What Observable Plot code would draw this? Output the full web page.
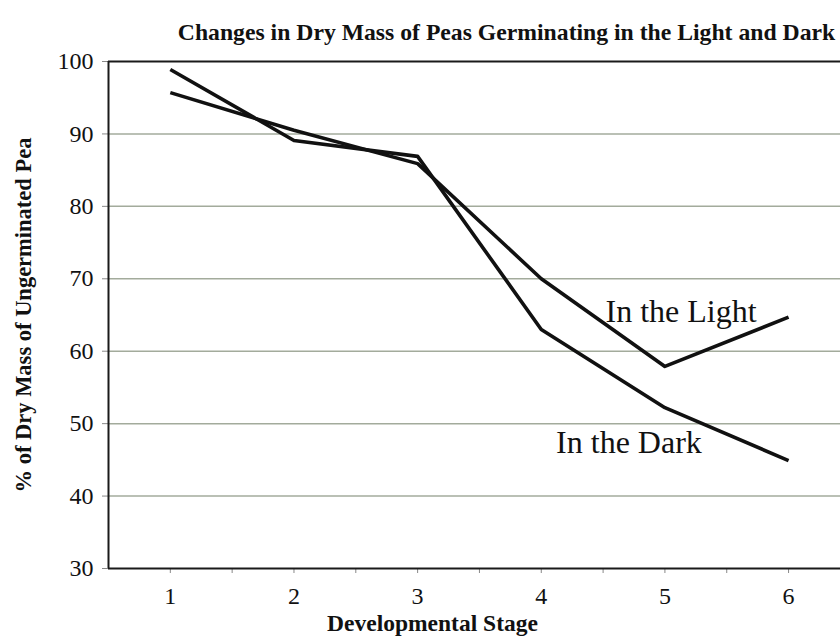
<!DOCTYPE html>
<html>
<head>
<meta charset="utf-8">
<script src="https://cdn.jsdelivr.net/npm/d3@7"></script>
<script src="https://cdn.jsdelivr.net/npm/@observablehq/plot@0.6"></script>
<style>
  html, body { margin: 0; padding: 0; background: #fff; }
  svg text { font-family: "Liberation Serif", "DejaVu Serif", serif; }
</style>
</head>
<body>
<div id="chart"></div>
<script>
const titleText = "Changes in Dry Mass of Peas Germinating in the Light and Dark";
const xLabel = "Developmental Stage";
const yLabel = "% of Dry Mass of Ungerminated Pea";

const stages = [1, 2, 3, 4, 5, 6];
const light = [95.7, 90.5, 85.9, 70.0, 57.9, 64.7];
const dark = [98.9, 89.1, 86.9, 63.0, 52.2, 44.9];

const yTicks = [30, 40, 50, 60, 70, 80, 90, 100];
const gridValues = [40, 50, 60, 70, 80, 90];
const xMinorTicks = [1.5, 2.5, 3.5, 4.5, 5.5];

const annotations = [
  {label: "In the Light", stage: 4.52, value: 64.0},
  {label: "In the Dark", stage: 4.12, value: 46.0}
];

const series = [
  ...stages.map((s, i) => ({stage: s, value: light[i], series: "Light"})),
  ...stages.map((s, i) => ({stage: s, value: dark[i], series: "Dark"}))
];

const chart = Plot.plot({
  width: 840,
  height: 639,
  marginTop: 61,
  marginBottom: 71,
  marginLeft: 108,
  marginRight: 0,
  style: {fontFamily: "Liberation Serif", background: "#fff", color: "#111", overflow: "visible"},
  x: {domain: [0.5, 6.42], axis: null},
  y: {domain: [30, 100], axis: null},
  marks: [
    Plot.ruleY(gridValues, {stroke: "#a3ab9c", strokeWidth: 1.5}),
    Plot.axisX({ticks: stages, tickFormat: d3.format("d"), tickSize: 5, tickPadding: 13, fontSize: 24, stroke: "#888", fill: "#111", label: null}),
    Plot.axisX({ticks: xMinorTicks, tickSize: 5, tickFormat: () => "", stroke: "#888", label: null}),
    Plot.axisY({ticks: yTicks, tickFormat: d3.format("d"), tickSize: 6, tickPadding: 9, fontSize: 24, stroke: "#888", fill: "#111", label: null}),
    Plot.ruleY([100], {stroke: "#1a1a1a", strokeWidth: 2}),
    Plot.ruleY([30], {stroke: "#1a1a1a", strokeWidth: 2}),
    Plot.ruleX([0.5], {stroke: "#1a1a1a", strokeWidth: 2}),
    Plot.line(series, {x: "stage", y: "value", z: "series", stroke: "#111", strokeWidth: 3.6, strokeLinejoin: "round", strokeLinecap: "butt"}),
    Plot.text(annotations, {x: "stage", y: "value", text: "label", textAnchor: "start", lineAnchor: "bottom", fontSize: 32, fill: "#111"}),
    Plot.text([titleText], {frameAnchor: "top", dx: 32, dy: -38, lineAnchor: "top", fontSize: 23.7, fontWeight: "bold", fill: "#111"}),
    Plot.text([xLabel], {frameAnchor: "bottom", dx: -42, dy: 46, lineAnchor: "top", fontSize: 23.5, fontWeight: "bold", fill: "#111"}),
    Plot.text([yLabel], {frameAnchor: "left", textAnchor: "middle", dx: -85, rotate: -90, lineAnchor: "middle", fontSize: 22.5, fontWeight: "bold", fill: "#111"})
  ]
});
document.getElementById("chart").appendChild(chart);
</script>
</body>
</html>
